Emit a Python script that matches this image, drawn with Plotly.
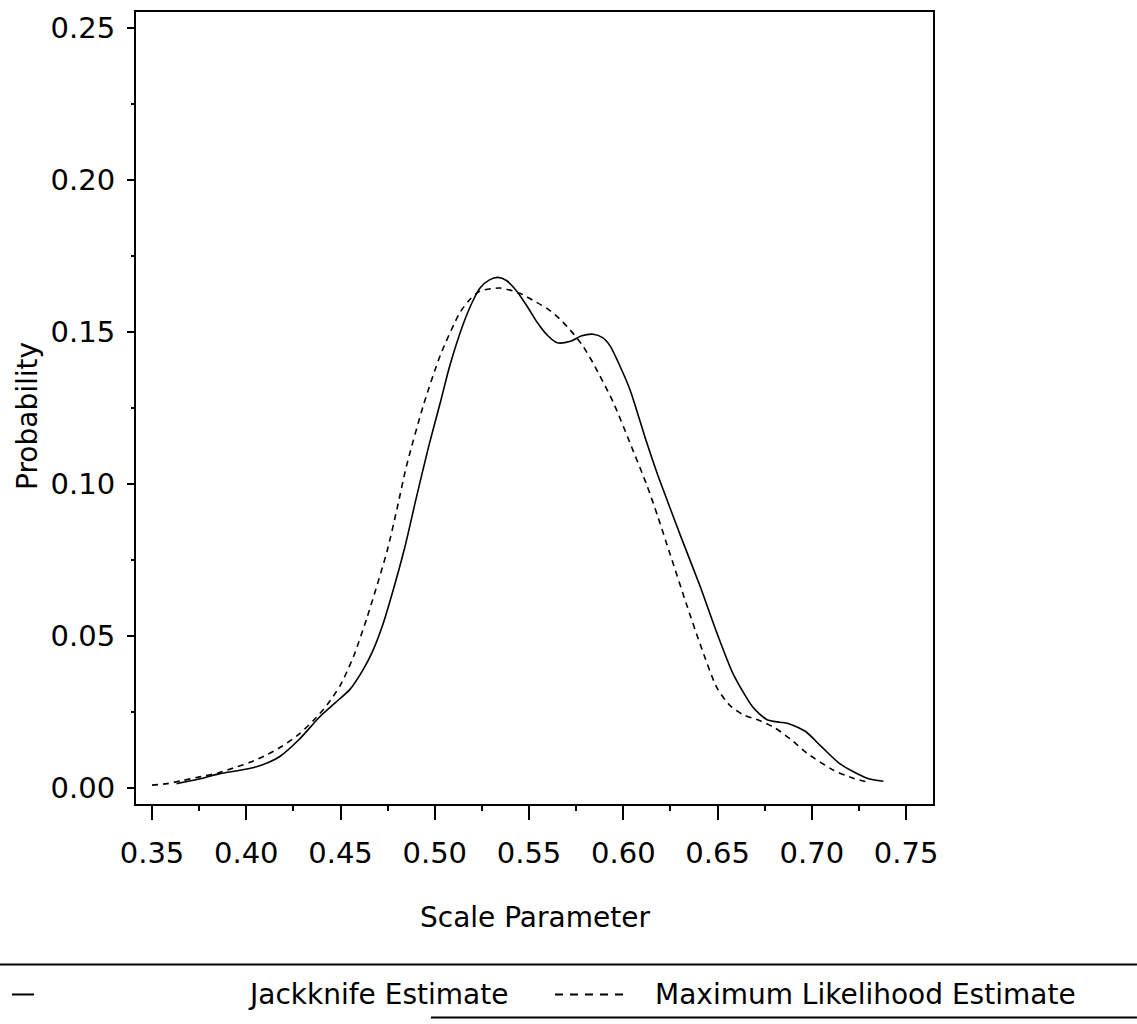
import plotly.graph_objects as go

# Jackknife estimate (solid)
jk_x = [0.363, 0.375, 0.386, 0.396, 0.404, 0.412, 0.418, 0.428, 0.439, 0.447,
        0.455, 0.462, 0.467, 0.472, 0.476, 0.484, 0.490, 0.497, 0.503, 0.508,
        0.515, 0.520, 0.524, 0.529, 0.5336, 0.538, 0.5436, 0.549, 0.554, 0.560,
        0.565, 0.572, 0.578, 0.584, 0.589, 0.593, 0.597, 0.6036, 0.607, 0.612,
        0.618, 0.624, 0.631, 0.6407, 0.6497, 0.6582, 0.6688, 0.6763, 0.683, 0.6874,
        0.6964, 0.7054, 0.715, 0.7293, 0.738]
jk_y = [0.0015, 0.003, 0.0048, 0.0058, 0.0068, 0.0085, 0.0105, 0.016, 0.0235, 0.028,
        0.0325, 0.039, 0.045, 0.053, 0.061, 0.079, 0.095, 0.113, 0.127, 0.139,
        0.1525, 0.160, 0.1645, 0.1672, 0.168, 0.167, 0.1634, 0.1585, 0.1535, 0.1488,
        0.1465, 0.147, 0.1488, 0.1493, 0.1482, 0.1455, 0.1405, 0.131, 0.1245, 0.1145,
        0.1035, 0.0935, 0.082, 0.0665, 0.051, 0.0377, 0.0266, 0.0225, 0.0217, 0.0213,
        0.0188, 0.0135, 0.008, 0.0033, 0.0023]

# Maximum likelihood estimate (dashed)
ml_x = [0.350, 0.358, 0.366, 0.376, 0.385, 0.393, 0.402, 0.411, 0.419, 0.428,
        0.436, 0.443, 0.450, 0.457, 0.464, 0.4747, 0.480, 0.485, 0.494, 0.503,
        0.5134, 0.519, 0.524, 0.5346, 0.545, 0.552, 0.5595, 0.566, 0.5717, 0.5785,
        0.584, 0.5946, 0.6036, 0.6126, 0.6185, 0.6248, 0.6338, 0.6407, 0.6497, 0.6566,
        0.6635, 0.6725, 0.6805, 0.689, 0.6975, 0.7113, 0.7219, 0.731]
ml_y = [0.001, 0.0015, 0.0025, 0.0038, 0.005, 0.0066, 0.0085, 0.011, 0.0138, 0.0178,
        0.0225, 0.0275, 0.034, 0.0435, 0.056, 0.078, 0.092, 0.106, 0.126, 0.1425,
        0.1565, 0.161, 0.1635, 0.1645, 0.1628, 0.1605, 0.1578, 0.1545, 0.1508, 0.1455,
        0.1398, 0.127, 0.1135, 0.0995, 0.089, 0.077, 0.060, 0.0475, 0.033, 0.0272,
        0.0242, 0.0222, 0.0198, 0.016, 0.0115, 0.006, 0.0033, 0.0018]

x_ticks = [0.35, 0.40, 0.45, 0.50, 0.55, 0.60, 0.65, 0.70, 0.75]
y_ticks = [0.00, 0.05, 0.10, 0.15, 0.20, 0.25]

series_names = ["Jackknife Estimate", "Maximum Likelihood Estimate"]

FONT = "DejaVu Sans"

fig = go.Figure()
fig.add_trace(go.Scatter(x=jk_x, y=jk_y, mode="lines", name=series_names[0],
                         line=dict(color="black", width=1.6, shape="spline", smoothing=0.7),
                         showlegend=False))
fig.add_trace(go.Scatter(x=ml_x, y=ml_y, mode="lines", name=series_names[1],
                         line=dict(color="black", width=1.6, dash="6px,5px", shape="spline", smoothing=0.7),
                         showlegend=False))

axis_common = dict(showgrid=False, zeroline=False, showline=True, mirror=True,
                   linecolor="black", linewidth=2, ticks="outside", tickcolor="black",
                   tickwidth=1.5, tickfont=dict(family=FONT, size=29, color="black"))

fig.update_xaxes(**axis_common, range=[0.3415, 0.7643], tickvals=x_ticks,
                 ticktext=[f"{v:.2f}" for v in x_ticks], ticklen=14,
                 ticklabelstandoff=8,
                 minor=dict(dtick=0.025, tick0=0.35, ticklen=5, ticks="outside",
                            tickcolor="black", tickwidth=1.5))
fig.update_yaxes(**axis_common, range=[-0.0052, 0.2553], tickvals=y_ticks,
                 ticktext=[f"{v:.2f}" for v in y_ticks], ticklen=7,
                 ticklabelstandoff=6,
                 minor=dict(dtick=0.025, tick0=0, ticklen=3, ticks="outside",
                            tickcolor="black", tickwidth=1.5))

tfont = dict(family=FONT, size=28, color="black")
ann = [
    dict(text="Probability", x=-0.1355, y=0.49, xref="paper", yref="paper",
         textangle=-90, showarrow=False, font=tfont, xanchor="center", yanchor="middle"),
    dict(text="Scale Parameter", x=0.5, y=-0.1436, xref="paper", yref="paper",
         showarrow=False, font=tfont, xanchor="center", yanchor="middle"),
    dict(text=series_names[0], x=0.469, y=-0.2405, xref="paper", yref="paper",
         showarrow=False, font=tfont, xanchor="right", yanchor="middle"),
    dict(text=series_names[1], x=0.6487, y=-0.2405, xref="paper", yref="paper",
         showarrow=False, font=tfont, xanchor="left", yanchor="middle"),
]
shapes = [
    dict(type="line", xref="paper", yref="paper", x0=-0.1706, x1=1.2559, y0=-0.2028, y1=-0.2028,
         line=dict(color="black", width=2)),
    dict(type="line", xref="paper", yref="paper", x0=0.37, x1=1.2559, y0=-0.2695, y1=-0.2695,
         line=dict(color="black", width=2)),
    dict(type="line", xref="paper", yref="paper", x0=-0.1556, x1=-0.128, y0=-0.2405, y1=-0.2405,
         line=dict(color="black", width=2)),
    dict(type="line", xref="paper", yref="paper", x0=0.5257, x1=0.6161, y0=-0.2405, y1=-0.2405,
         line=dict(color="black", width=2, dash="8px,7px")),
]

fig.update_layout(width=1137, height=1024, margin=dict(l=136, r=204, t=10, b=220),
                  plot_bgcolor="white", paper_bgcolor="white",
                  annotations=ann, shapes=shapes, showlegend=False)

fig.write_html("out.html")
